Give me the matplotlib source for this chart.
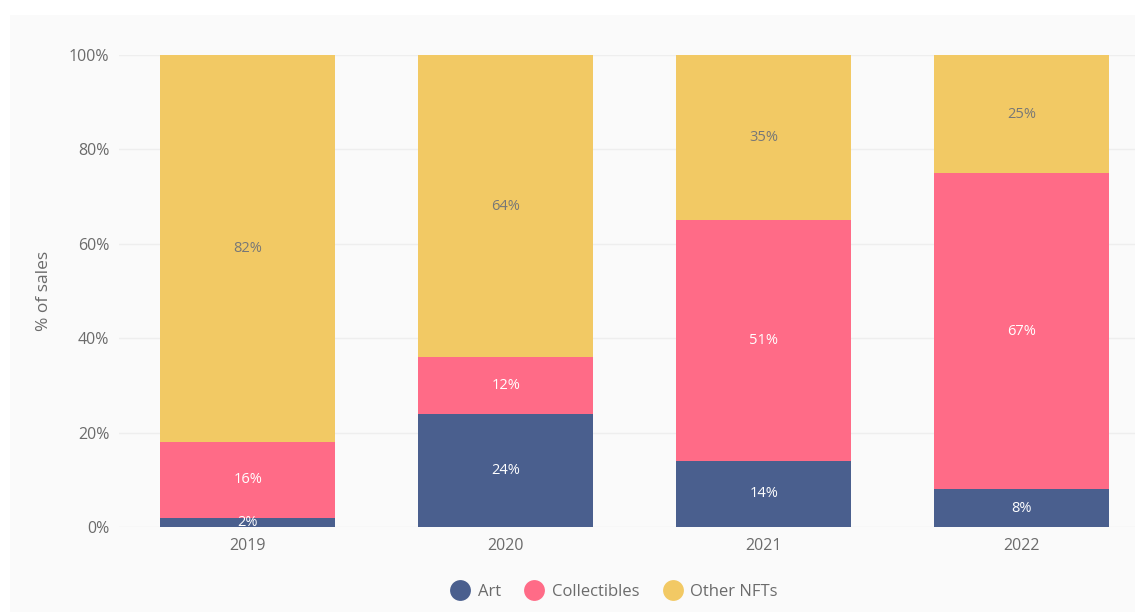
import numpy as np
import matplotlib.pyplot as plt
from matplotlib.patches import Rectangle
from matplotlib.lines import Line2D
from matplotlib.ticker import PercentFormatter

plt.rcParams['font.family'] = ['Open Sans', 'DejaVu Sans']

years = ['2019', '2020', '2021', '2022']
art = [2, 24, 14, 8]
collectibles = [16, 12, 51, 67]
other = [82, 64, 35, 25]

series = [('Art', art, '#4a5f8e', 'white'),
          ('Collectibles', collectibles, '#ff6b87', 'white'),
          ('Other NFTs', other, '#f2c964', '#777777')]

fig = plt.figure(figsize=(11.35, 6.12), dpi=100)
fig.patch.set_facecolor('white')
# light panel behind the chart
fig.patches.append(Rectangle((0.009, 0), 0.991, 0.975, transform=fig.transFigure,
                             facecolor='#fafafa', edgecolor='none', zorder=-1))

ax = fig.add_axes([0.1048, 0.1389, 0.909, 0.7712])
ax.set_facecolor('none')

x = np.arange(len(years))
bottom = np.zeros(len(years))
for name, vals, color, txt in series:
    vals = np.array(vals, dtype=float)
    bars = ax.bar(x, vals, width=0.678, bottom=bottom, color=color, label=name, zorder=2)
    for xi, b, v in zip(x, bottom, vals):
        ax.text(xi, b + v / 2, f'{int(v)}%', ha='center', va='center',
                color=txt, fontsize=10.5, zorder=3)
    bottom += vals

ax.set_xlim(-0.5, 3.5)
ax.set_ylim(0, 100)
ax.set_yticks(range(0, 101, 20))
ax.yaxis.set_major_formatter(PercentFormatter(decimals=0))
ax.set_xticks(x, years)
ax.grid(axis='y', color='#eeeeee', linewidth=1, zorder=0)
for s in ax.spines.values():
    s.set_visible(False)
ax.tick_params(length=0, colors='#6b6b6b', labelsize=11.5)
ax.tick_params(axis='y', pad=7)
ax.tick_params(axis='x', pad=8)
ax.set_ylabel('% of sales', color='#6b6b6b', fontsize=12.5, labelpad=12)

handles = [Line2D([], [], marker='o', linestyle='none', markersize=15,
                  markerfacecolor=c, markeredgecolor='none') for _, _, c, _ in series]
fig.legend(handles, [s[0] for s in series], loc='center', bbox_to_anchor=(0.538, 0.033),
           ncol=3, frameon=False, fontsize=12, labelcolor='#6b6b6b',
           handletextpad=0.05, columnspacing=1.0)

fig.savefig('out.png', dpi=100)
